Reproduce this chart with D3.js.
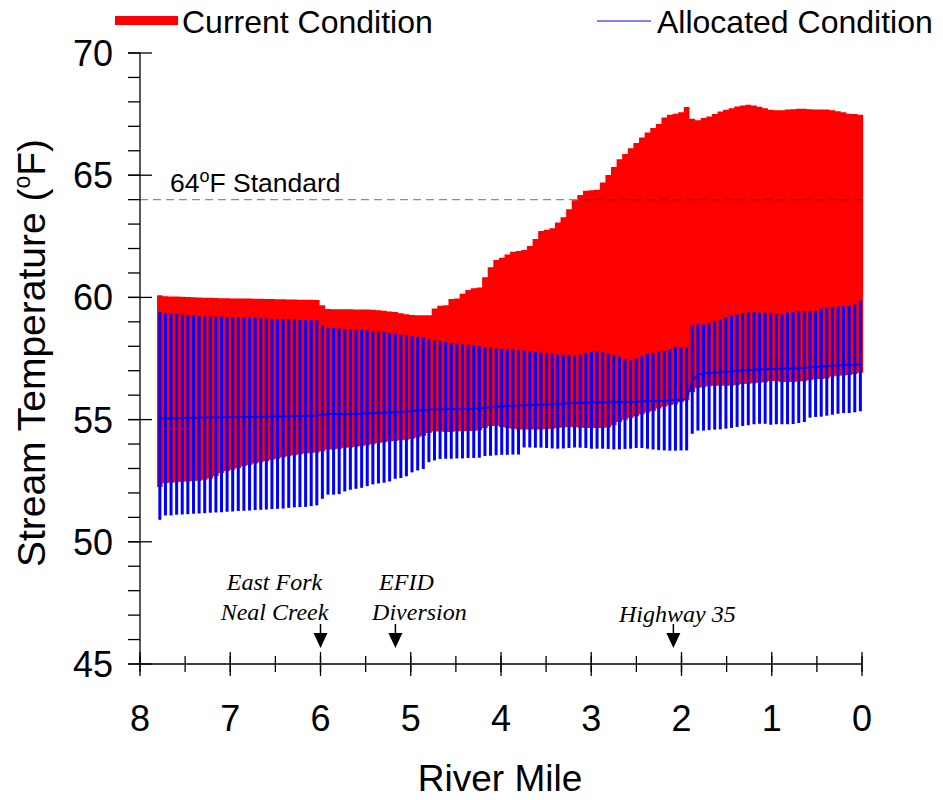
<!DOCTYPE html>
<html>
<head>
<meta charset="utf-8">
<script src="https://cdn.jsdelivr.net/npm/d3@7"></script>
<style>
  html, body { margin: 0; padding: 0; background: #fff; }
  svg { display: block; }
  text { font-family: "Liberation Sans", Arial, sans-serif; fill: #000; }
  .note { font-family: "Liberation Serif", "Times New Roman", serif; font-style: italic; }
</style>
</head>
<body>
<svg id="chart" width="943" height="800"></svg>
<script>
// River mile of each model node (100 m spacing, upstream on the left)
const miles = [
  7.780, 7.718, 7.656, 7.594, 7.532, 7.470, 7.407, 7.345, 7.283, 7.221,
  7.159, 7.097, 7.035, 6.973, 6.911, 6.849, 6.786, 6.724, 6.662, 6.600,
  6.538, 6.476, 6.414, 6.352, 6.290, 6.228, 6.165, 6.103, 6.041, 5.979,
  5.917, 5.855, 5.793, 5.731, 5.669, 5.607, 5.544, 5.482, 5.420, 5.358,
  5.296, 5.234, 5.172, 5.110, 5.048, 4.986, 4.923, 4.861, 4.799, 4.737,
  4.675, 4.613, 4.551, 4.489, 4.427, 4.365, 4.302, 4.240, 4.178, 4.116,
  4.054, 3.992, 3.930, 3.868, 3.806, 3.744, 3.681, 3.619, 3.557, 3.495,
  3.433, 3.371, 3.309, 3.247, 3.185, 3.123, 3.060, 2.998, 2.936, 2.874,
  2.812, 2.750, 2.688, 2.626, 2.564, 2.502, 2.439, 2.377, 2.315, 2.253,
  2.191, 2.129, 2.067, 2.005, 1.943, 1.881, 1.818, 1.756, 1.694, 1.632,
  1.570, 1.508, 1.446, 1.384, 1.322, 1.260, 1.197, 1.135, 1.073, 1.011,
  0.949, 0.887, 0.825, 0.763, 0.701, 0.639, 0.576, 0.514, 0.452, 0.390,
  0.328, 0.266, 0.204, 0.142, 0.080, 0.018
];

// Current condition: daily maximum and minimum stream temperature (°F)
const currentMax = [
  60.09, 60.05, 60.04, 60.04, 60.03, 60.02, 60.01, 60.00, 59.99, 59.99,
  59.98, 59.97, 59.97, 59.96, 59.96, 59.95, 59.95, 59.94, 59.94, 59.93,
  59.93, 59.92, 59.92, 59.91, 59.91, 59.90, 59.90, 59.90, 59.89, 59.68,
  59.53, 59.52, 59.52, 59.52, 59.52, 59.51, 59.51, 59.50, 59.49, 59.47,
  59.45, 59.42, 59.40, 59.35, 59.31, 59.28, 59.27, 59.27, 59.27, 59.55,
  59.66, 59.68, 59.93, 59.96, 60.15, 60.30, 60.37, 60.41, 60.82, 61.23,
  61.53, 61.62, 61.76, 61.87, 61.90, 61.94, 62.10, 62.39, 62.72, 62.77,
  62.83, 63.06, 63.28, 63.61, 63.97, 64.19, 64.36, 64.38, 64.40, 64.70,
  65.01, 65.34, 65.65, 65.87, 66.10, 66.32, 66.54, 66.75, 66.93, 67.10,
  67.36, 67.47, 67.51, 67.58, 67.79, 67.31, 67.25, 67.34, 67.40, 67.50,
  67.61, 67.68, 67.74, 67.81, 67.85, 67.88, 67.85, 67.80, 67.74, 67.68,
  67.66, 67.66, 67.69, 67.70, 67.72, 67.72, 67.70, 67.69, 67.69, 67.69,
  67.66, 67.62, 67.58, 67.51, 67.50, 67.47
];
const currentMin = [
  52.24, 52.40, 52.42, 52.44, 52.46, 52.47, 52.49, 52.50, 52.54, 52.59,
  52.69, 52.81, 52.90, 52.95, 53.02, 53.09, 53.14, 53.20, 53.25, 53.31,
  53.36, 53.40, 53.46, 53.50, 53.54, 53.58, 53.61, 53.63, 53.65, 53.70,
  53.78, 53.78, 53.81, 53.85, 53.86, 53.89, 53.92, 53.95, 53.99, 54.04,
  54.07, 54.10, 54.12, 54.15, 54.18, 54.22, 54.27, 54.33, 54.45, 54.51,
  54.51, 54.49, 54.49, 54.52, 54.52, 54.53, 54.53, 54.56, 54.66, 54.74,
  54.75, 54.70, 54.66, 54.63, 54.60, 54.59, 54.59, 54.59, 54.60, 54.62,
  54.63, 54.66, 54.68, 54.70, 54.69, 54.67, 54.66, 54.66, 54.66, 54.66,
  54.69, 54.77, 54.90, 54.99, 55.07, 55.14, 55.22, 55.29, 55.35, 55.45,
  55.53, 55.59, 55.63, 55.72, 55.79, 56.13, 56.30, 56.32, 56.36, 56.38,
  56.38, 56.38, 56.39, 56.42, 56.46, 56.47, 56.49, 56.51, 56.53, 56.58,
  56.57, 56.54, 56.54, 56.54, 56.56, 56.58, 56.62, 56.65, 56.66, 56.68,
  56.76, 56.79, 56.80, 56.82, 56.87, 56.92
];

// Allocated condition: daily maximum, minimum and mean (°F)
const allocMax = [
  59.41, 59.36, 59.33, 59.32, 59.30, 59.27, 59.25, 59.23, 59.22, 59.22,
  59.21, 59.21, 59.19, 59.19, 59.19, 59.18, 59.17, 59.17, 59.15, 59.14,
  59.12, 59.12, 59.11, 59.11, 59.10, 59.08, 59.08, 59.07, 59.06, 58.86,
  58.75, 58.75, 58.73, 58.71, 58.70, 58.67, 58.66, 58.65, 58.62, 58.61,
  58.59, 58.54, 58.51, 58.48, 58.45, 58.41, 58.39, 58.35, 58.29, 58.24,
  58.21, 58.17, 58.13, 58.11, 58.09, 58.06, 58.03, 58.00, 57.96, 57.94,
  57.91, 57.90, 57.88, 57.88, 57.85, 57.83, 57.81, 57.77, 57.74, 57.73,
  57.70, 57.66, 57.65, 57.65, 57.62, 57.65, 57.73, 57.77, 57.80, 57.76,
  57.72, 57.64, 57.57, 57.48, 57.43, 57.51, 57.59, 57.68, 57.73, 57.77,
  57.81, 57.89, 57.96, 57.95, 57.94, 58.88, 58.92, 58.89, 58.96, 59.04,
  59.11, 59.18, 59.26, 59.30, 59.36, 59.38, 59.40, 59.38, 59.37, 59.36,
  59.33, 59.30, 59.38, 59.40, 59.44, 59.44, 59.44, 59.45, 59.55, 59.59,
  59.60, 59.63, 59.64, 59.66, 59.71, 59.88
];
const allocMin = [
  50.90, 51.08, 51.08, 51.11, 51.12, 51.13, 51.15, 51.16, 51.17, 51.19,
  51.20, 51.21, 51.23, 51.24, 51.26, 51.27, 51.28, 51.30, 51.31, 51.32,
  51.34, 51.35, 51.36, 51.39, 51.41, 51.42, 51.43, 51.46, 51.49, 51.76,
  51.93, 51.93, 51.95, 52.06, 52.13, 52.17, 52.21, 52.28, 52.35, 52.39,
  52.42, 52.47, 52.58, 52.61, 52.68, 52.84, 52.92, 52.98, 53.26, 53.33,
  53.39, 53.40, 53.40, 53.41, 53.41, 53.43, 53.43, 53.44, 53.51, 53.52,
  53.54, 53.56, 53.56, 53.57, 53.57, 53.86, 53.86, 53.85, 53.85, 53.84,
  53.82, 53.81, 53.82, 53.84, 53.86, 53.85, 53.84, 53.81, 53.81, 53.81,
  53.80, 53.78, 53.78, 53.80, 53.81, 53.84, 53.84, 53.81, 53.78, 53.75,
  53.74, 53.73, 53.73, 53.74, 53.74, 54.42, 54.55, 54.55, 54.57, 54.59,
  54.60, 54.63, 54.66, 54.70, 54.74, 54.77, 54.81, 54.83, 54.83, 54.79,
  54.81, 54.81, 54.81, 54.82, 54.86, 54.90, 55.08, 55.11, 55.12, 55.16,
  55.20, 55.24, 55.27, 55.27, 55.30, 55.34
];
const allocMean = [
  55.04, 55.05, 55.05, 55.06, 55.06, 55.07, 55.07, 55.08, 55.08, 55.09,
  55.09, 55.09, 55.10, 55.10, 55.10, 55.11, 55.11, 55.11, 55.12, 55.12,
  55.12, 55.13, 55.13, 55.13, 55.14, 55.14, 55.15, 55.15, 55.16, 55.20,
  55.22, 55.22, 55.23, 55.23, 55.23, 55.24, 55.24, 55.25, 55.26, 55.27,
  55.28, 55.29, 55.31, 55.32, 55.33, 55.35, 55.37, 55.39, 55.41, 55.42,
  55.42, 55.42, 55.43, 55.43, 55.43, 55.44, 55.45, 55.46, 55.48, 55.50,
  55.52, 55.54, 55.55, 55.56, 55.57, 55.58, 55.59, 55.60, 55.61, 55.62,
  55.63, 55.64, 55.65, 55.66, 55.67, 55.68, 55.69, 55.70, 55.71, 55.71,
  55.71, 55.71, 55.72, 55.72, 55.72, 55.73, 55.74, 55.75, 55.76, 55.77,
  55.78, 55.79, 55.81, 55.82, 55.83, 56.58, 56.84, 56.88, 56.90, 56.92,
  56.93, 56.95, 56.97, 56.99, 57.01, 57.02, 57.04, 57.05, 57.06, 57.07,
  57.08, 57.08, 57.09, 57.09, 57.10, 57.12, 57.14, 57.16, 57.17, 57.19,
  57.21, 57.22, 57.23, 57.24, 57.25, 57.25
];

const nodeSpacing = 0.0621;          // miles between nodes
const standardTemp = 64;             // °F criterion
const yTicks = [45, 50, 55, 60, 65, 70];
const yMinorTicks = d3.range(45, 71, 1);
const xTicks = [8, 7, 6, 5, 4, 3, 2, 1, 0];
const xMinorTicks = d3.range(0, 8.01, 0.5);
const legendLabels = ["Current Condition", "Allocated Condition"];
const landmarkNames = [["East Fork", "Neal Creek"], ["EFID", "Diversion"], ["Highway 35"]];
const landmarkMiles = [6.0, 5.17, 2.09];

// ---- drawing -------------------------------------------------------------
const svg = d3.select("#chart");
const RED = "#ff0000", BLUE = "#0000ff";

const x = d3.scaleLinear().domain([8, 0]).range([140, 862]);
const y = d3.scaleLinear().domain([45, 70]).range([664, 53]);

const nodes = miles.map((m, i) => ({
  mile: m,
  curMax: currentMax[i], curMin: currentMin[i],
  alMax: allocMax[i], alMin: allocMin[i], alMean: allocMean[i]
}));

// current condition: one full-width column per node, merged into a stepped band
const stepPts = [];
nodes.forEach(d => {
  stepPts.push({ m: d.mile + nodeSpacing / 2, hi: d.curMax, lo: d.curMin });
  stepPts.push({ m: d.mile - nodeSpacing / 2, hi: d.curMax, lo: d.curMin });
});
svg.append("path")
  .datum(stepPts)
  .attr("fill", RED)
  .attr("d", d3.area().x(d => x(d.m)).y0(d => y(d.lo)).y1(d => y(d.hi)));

// allocated condition: thin daily-range bars
svg.append("g").selectAll("rect")
  .data(nodes)
  .join("rect")
  .attr("x", d => x(d.mile) - 1.5)
  .attr("width", 3)
  .attr("y", d => y(d.alMax))
  .attr("height", d => y(d.alMin) - y(d.alMax))
  .attr("fill", BLUE);

// allocated mean
svg.append("path")
  .datum(nodes)
  .attr("fill", "none")
  .attr("stroke", BLUE)
  .attr("stroke-width", 1.8)
  .attr("d", d3.line().x(d => x(d.mile)).y(d => y(d.alMean)));

// 64°F standard
svg.append("line")
  .attr("x1", x(8)).attr("x2", x(0))
  .attr("y1", y(standardTemp)).attr("y2", y(standardTemp))
  .attr("stroke", "#000").attr("stroke-opacity", 0.45)
  .attr("stroke-width", 1.3).attr("stroke-dasharray", "8,5");

const std = svg.append("text")
  .attr("x", 170).attr("y", y(standardTemp) - 8)
  .style("font-size", "26.5px");
std.append("tspan").text(String(standardTemp));
std.append("tspan").text("o").attr("dy", -10).style("font-size", "18px");
std.append("tspan").text("F Standard").attr("dy", 10);

// y axis
const axisG = svg.append("g").attr("stroke", "#000").attr("stroke-width", 1.3);
axisG.append("line").attr("x1", x(8)).attr("x2", x(8)).attr("y1", y(70)).attr("y2", y(45));
axisG.selectAll(".ymin").data(yMinorTicks).join("line")
  .attr("x1", x(8) - 12).attr("x2", x(8))
  .attr("y1", d => y(d)).attr("y2", d => y(d));
axisG.selectAll(".ymaj").data(yTicks).join("line")
  .attr("x1", x(8) - 12).attr("x2", x(8) + 12)
  .attr("y1", d => y(d)).attr("y2", d => y(d));

// x axis
axisG.append("line").attr("x1", x(8)).attr("x2", x(0)).attr("y1", y(45)).attr("y2", y(45));
axisG.selectAll(".xmin").data(xMinorTicks).join("line")
  .attr("x1", d => x(d)).attr("x2", d => x(d))
  .attr("y1", y(45) - 8).attr("y2", y(45) + 8);
axisG.selectAll(".xmaj").data(xTicks).join("line")
  .attr("x1", d => x(d)).attr("x2", d => x(d))
  .attr("y1", y(45) - 12).attr("y2", y(45) + 12);

svg.append("g").selectAll("text").data(yTicks).join("text")
  .attr("x", 113).attr("y", d => y(d)).attr("dy", "0.36em")
  .attr("text-anchor", "end").style("font-size", "36px")
  .text(d => d);

svg.append("g").selectAll("text").data(xTicks).join("text")
  .attr("x", d => x(d)).attr("y", 731)
  .attr("text-anchor", "middle").style("font-size", "36px")
  .text(d => d);

// axis titles
svg.append("text")
  .attr("x", 500).attr("y", 791)
  .attr("text-anchor", "middle").style("font-size", "37px")
  .text("River Mile");

const yTitle = svg.append("text")
  .attr("transform", "translate(45,353) rotate(-90)")
  .attr("text-anchor", "middle").style("font-size", "39px");
yTitle.append("tspan").text("Stream Temperature (");
yTitle.append("tspan").text("o").attr("dy", -15).style("font-size", "23px");
yTitle.append("tspan").text("F)").attr("dy", 15);

// landmarks along the river (label offsets per line, relative to the arrow)
const noteDx = [[-46, -46], [11, 24], [4]];
landmarkMiles.forEach((m, i) => {
  const cx = x(m);
  const lines = landmarkNames[i];
  const g = svg.append("g");
  lines.forEach((t, j) => {
    g.append("text").attr("class", "note")
      .attr("x", cx + noteDx[i][j])
      .attr("y", 620 - (lines.length - 1 - j) * 30 + (lines.length === 1 ? 2 : 0))
      .attr("text-anchor", "middle").style("font-size", "24px")
      .text(t);
  });
  g.append("line").attr("x1", cx).attr("x2", cx).attr("y1", 624).attr("y2", 635)
    .attr("stroke", "#000").attr("stroke-width", 1.5);
  g.append("path")
    .attr("d", `M${cx - 7},633 L${cx + 7},633 L${cx},648 Z`)
    .attr("fill", "#000");
});

// legend
svg.append("rect").attr("x", 115).attr("y", 16).attr("width", 63).attr("height", 9).attr("fill", RED);
svg.append("text").attr("x", 182).attr("y", 33).style("font-size", "32px").text(legendLabels[0]);
svg.append("line").attr("x1", 597).attr("x2", 651).attr("y1", 21).attr("y2", 21)
  .attr("stroke", BLUE).attr("stroke-width", 1.2);
svg.append("text").attr("x", 657).attr("y", 33).style("font-size", "32px").text(legendLabels[1]);
</script>
</body>
</html>
